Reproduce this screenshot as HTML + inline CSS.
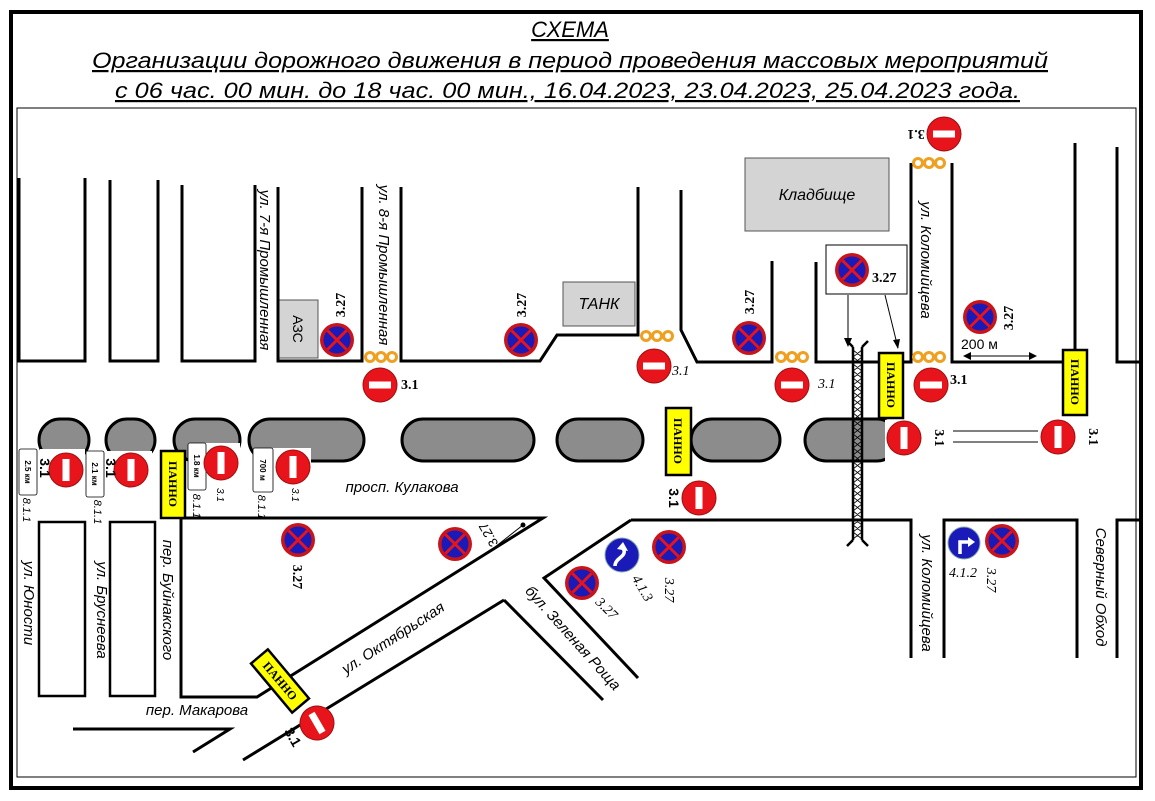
<!DOCTYPE html>
<html><head><meta charset="utf-8"><style>
html,body{margin:0;padding:0;background:#fff}
svg{display:block}
text{font-family:"Liberation Sans",sans-serif}
.t{font-style:italic;font-size:22px;text-decoration:underline}
.st{font-size:15px;font-style:italic}
.lb{font-family:"Liberation Serif",serif;font-weight:bold;font-size:14px}
.li{font-family:"Liberation Serif",serif;font-style:italic;font-size:14px}
.pn{font-family:"Liberation Serif",serif;font-weight:bold;font-size:12px}
</style></head><body>
<svg width="1155" height="801" viewBox="0 0 1155 801" xmlns="http://www.w3.org/2000/svg">
<defs>
<g id="ne"><circle r="17" fill="#e8141b" stroke="#9b1010" stroke-width="1"/><rect x="-11" y="-3.5" width="22" height="7" fill="#fff"/></g>
<g id="nev"><circle r="17" fill="#e8141b" stroke="#9b1010" stroke-width="1"/><rect x="-3.5" y="-11" width="7" height="22" fill="#fff"/></g>
<g id="ns"><circle r="17" fill="#c8141b"/><circle r="13.5" fill="#1a1ab8"/><path d="M-9.5,-9.5L9.5,9.5M9.5,-9.5L-9.5,9.5" stroke="#e8141b" stroke-width="3"/></g>
<g id="dots"><circle cx="0" r="4.5" fill="none" stroke="#f0a020" stroke-width="3"/><circle cx="11" r="4.5" fill="none" stroke="#f0a020" stroke-width="3"/><circle cx="22" r="4.5" fill="none" stroke="#f0a020" stroke-width="3"/></g>
</defs>
<rect width="1155" height="801" fill="#fff"/>
<rect x="11" y="12" width="1130" height="776" fill="none" stroke="#000" stroke-width="4"/>
<rect x="17" y="108" width="1119" height="669" fill="none" stroke="#000" stroke-width="1"/>
<text class="t" x="570" y="37" text-anchor="middle">СХЕМА</text>
<text class="t" x="92" y="68" textLength="956" lengthAdjust="spacingAndGlyphs">Организации дорожного движения в период проведения массовых мероприятий</text>
<text class="t" x="115" y="98" textLength="905" lengthAdjust="spacingAndGlyphs">с 06 час. 00 мин. до 18 час. 00 мин., 16.04.2023, 23.04.2023, 25.04.2023 года.</text>

<!-- buildings -->
<rect x="279" y="300" width="39" height="58" fill="#d4d4d4" stroke="#555"/>
<text x="298" y="329" font-family="Liberation Serif" font-size="14" text-anchor="middle" transform="rotate(90 298 329)" dy="5">АЗС</text>
<rect x="563" y="282" width="72" height="44" fill="#d4d4d4" stroke="#555"/>
<text x="599" y="309" font-size="16" font-style="italic" text-anchor="middle">ТАНК</text>
<rect x="745" y="158" width="144" height="73" fill="#d4d4d4" stroke="#555"/>
<text x="817" y="200" font-size="16" font-style="italic" text-anchor="middle">Кладбище</text>

<!-- top roads -->
<g fill="none" stroke="#000" stroke-width="3">
<path d="M19,178V361H85V178"/>
<path d="M110,180V361H158V180"/>
<path d="M182,185V361H255V185"/>
<path d="M278,187V361H362V187"/>
<path d="M401,187V361H540L557,335H638V187"/>
<path d="M681,190V330L697,362H772V261"/>
<path d="M816,262V362H911V163"/>
<path d="M952,163V362H1075V143"/>
<path d="M1117,147V362H1139"/>
<!-- bottom -->
<path d="M39,522H85V696H39Z" stroke-width="2.5"/>
<path d="M110,522H155V696H110Z" stroke-width="2.5"/>
<path d="M181,518H543L257,697H181Z"/>
<path d="M504,600L243,760"/>
<path d="M504,600L603,700"/>
<path d="M73,729H230L193,752"/>
<path d="M631,520H911V658"/>
<path d="M631,520L544,578L638,678"/>
<path d="M944,658V520H1077V658"/>
<path d="M1117,658V520H1139"/>
</g>
<!-- islands -->
<g fill="#8c8c8c" stroke="#000" stroke-width="3">
<rect x="39" y="419" width="50" height="42" rx="21"/>
<rect x="106" y="419" width="49" height="42" rx="21"/>
<rect x="174" y="419" width="66" height="42" rx="21"/>
<rect x="249" y="419" width="115" height="42" rx="21"/>
<rect x="402" y="419" width="132" height="42" rx="21"/>
<rect x="557" y="419" width="86" height="42" rx="21"/>
<rect x="691" y="419" width="89" height="42" rx="21"/>
<rect x="805" y="419" width="93" height="42" rx="21"/>
</g>
<!-- white cutouts -->
<g fill="#fff">
<rect x="40" y="449" width="45" height="14"/><rect x="86" y="451" width="66" height="12"/>
<rect x="188" y="443" width="52" height="20"/><rect x="253" y="448" width="58" height="15"/>
<rect x="885" y="420" width="16" height="44"/>
</g>
<!-- railway -->
<g stroke="#000" fill="none">
<path d="M853,347V540M862,347V540" stroke-width="2.5"/>
<path d="M853,347L847,341M862,347L868,341M853,540L847,546M862,540L868,546" stroke-width="2.5"/>
<path d="M853,350 L862,357 L853,364 L862,371 L853,378 L862,385 L853,392 L862,399 L853,406 L862,413 L853,420 L862,427 L853,434 L862,441 L853,448 L862,455 L853,462 L862,469 L853,476 L862,483 L853,490 L862,497 L853,504 L862,511 L853,518 L862,525 L853,532 L862,539 M862,350 L853,357 L862,364 L853,371 L862,378 L853,385 L862,392 L853,399 L862,406 L853,413 L862,420 L853,427 L862,434 L853,441 L862,448 L853,455 L862,462 L853,469 L862,476 L853,483 L862,490 L853,497 L862,504 L853,511 L862,518 L853,525 L862,532 L853,539" stroke-width="0.8"/>
</g>
<!-- 3.27 box and arrows -->
<rect x="826" y="245" width="81" height="49" fill="#fff" stroke="#000"/>
<path d="M848,295V346M898,348L885,295" stroke="#000" stroke-width="1"/>
<path d="M844,338L848,347L852,338Z M893,340L898,349L900,339Z" fill="#000"/>
<!-- 200m -->
<path d="M965,356H1035" stroke="#000"/><path d="M963,356l8,-4v8zM1037,356l-8,-4v8z" fill="#000"/>
<text x="981" y="349" font-family="Liberation Serif" font-size="14" text-anchor="start" dx="-20">200 м</text>
<path d="M953,431H1038M953,442H1038" stroke="#000" stroke-width="1"/>

<!-- dots -->
<use href="#dots" x="370" y="357"/><use href="#dots" x="646" y="336"/><use href="#dots" x="781" y="357"/><use href="#dots" x="918" y="357"/><use href="#dots" x="918" y="163"/>

<!-- signs top -->
<use href="#ns" x="337" y="340"/><text class="lb" x="345" y="305" transform="rotate(-90 345 305)" text-anchor="middle">3.27</text>
<use href="#ne" x="380" y="385"/><text class="lb" x="401" y="389">3.1</text>
<use href="#ns" x="521" y="340"/><text class="lb" x="526" y="305" transform="rotate(-90 526 305)" text-anchor="middle">3.27</text>
<use href="#ne" x="654" y="366"/><text class="li" x="672" y="375">3.1</text>
<use href="#ns" x="749" y="338"/><text class="lb" x="754" y="302" transform="rotate(-90 754 302)" text-anchor="middle">3.27</text>
<use href="#ne" x="792" y="385"/><text class="li" x="818" y="388">3.1</text>
<use href="#ne" x="931" y="385"/><text class="lb" x="950" y="384">3.1</text>
<use href="#ns" x="852" y="270"/><text class="lb" x="872" y="282">3.27</text>
<use href="#ns" x="980" y="317"/><text class="lb" x="1013" y="318" transform="rotate(-90 1013 318)" text-anchor="middle">3.27</text>
<use href="#ne" x="944" y="134"/><text class="lb" x="916" y="135" transform="rotate(180 916 135)" text-anchor="middle" dy="5">3.1</text>
<use href="#nev" x="904" y="438"/><text class="lb" x="931" y="438" transform="rotate(90 931 438)" text-anchor="middle" dy="-4">3.1</text>
<use href="#nev" x="1058" y="437"/><text class="lb" x="1085" y="437" transform="rotate(90 1085 437)" text-anchor="middle" dy="-4">3.1</text>

<!-- PANNO -->
<g>
<rect x="879" y="353" width="24" height="65" fill="#ffff00" stroke="#000" stroke-width="2.5"/><text class="pn" x="891" y="385" transform="rotate(90 891 385)" text-anchor="middle" dy="4">ПАННО</text>
<rect x="1063" y="350" width="24" height="65" fill="#ffff00" stroke="#000" stroke-width="2.5"/><text class="pn" x="1075" y="382" transform="rotate(90 1075 382)" text-anchor="middle" dy="4">ПАННО</text>
<rect x="666" y="408" width="25" height="67" fill="#ffff00" stroke="#000" stroke-width="2.5"/><text class="pn" x="678" y="441" transform="rotate(90 678 441)" text-anchor="middle" dy="4">ПАННО</text>
<rect x="161" y="451" width="24" height="67" fill="#ffff00" stroke="#000" stroke-width="2.5"/><text class="pn" x="173" y="484" transform="rotate(90 173 484)" text-anchor="middle" dy="4">ПАННО</text>
<g transform="translate(280 681) rotate(50)"><rect x="-32" y="-11" width="64" height="22" fill="#ffff00" stroke="#000" stroke-width="2.5"/><text class="pn" x="0" y="4" text-anchor="middle">ПАННО</text></g>
</g>

<!-- avenue signs left -->
<g fill="#fff" stroke="#000" stroke-width="0.8">
<rect x="19" y="449" width="18" height="46" rx="2"/><rect x="86" y="451" width="18" height="46" rx="2"/>
<rect x="188" y="443" width="18" height="47" rx="2"/><rect x="253" y="448" width="20" height="44" rx="2"/>
</g>
<g font-size="8" font-weight="bold">
<text x="28" y="472" transform="rotate(90 28 472)" text-anchor="middle" dy="3">2.5 км</text>
<text x="95" y="474" transform="rotate(90 95 474)" text-anchor="middle" dy="3">2.1 км</text>
<text x="197" y="466" transform="rotate(90 197 466)" text-anchor="middle" dy="3">1.8 км</text>
<text x="263" y="470" transform="rotate(90 263 470)" text-anchor="middle" dy="3">700 м</text>
</g>
<g class="li" font-size="11">
<text x="27" y="510" transform="rotate(90 27 510)" text-anchor="middle" dy="4" font-family="Liberation Sans" font-size="11" font-style="italic">8.1.1</text>
<text x="98" y="512" transform="rotate(90 98 512)" text-anchor="middle" dy="4" font-family="Liberation Sans" font-size="11" font-style="italic">8.1.1</text>
<text x="197" y="506" transform="rotate(90 197 506)" text-anchor="middle" dy="4" font-family="Liberation Sans" font-size="11" font-style="italic">8.1.1</text>
<text x="262" y="507" transform="rotate(90 262 507)" text-anchor="middle" dy="4" font-family="Liberation Sans" font-size="11" font-style="italic">8.1.1</text>
<text x="221" y="495" transform="rotate(90 221 495)" text-anchor="middle" dy="4" font-family="Liberation Sans" font-size="10">3.1</text>
<text x="296" y="495" transform="rotate(90 296 495)" text-anchor="middle" dy="4" font-family="Liberation Sans" font-size="10">3.1</text>
</g>
<use href="#nev" x="66" y="470"/><text x="45" y="468" transform="rotate(90 45 468)" text-anchor="middle" dy="5" font-weight="bold" font-size="14">3.1</text>
<use href="#nev" x="131" y="470"/><text x="111" y="468" transform="rotate(90 111 468)" text-anchor="middle" dy="5" font-weight="bold" font-size="14">3.1</text>
<use href="#nev" x="221" y="463"/>
<use href="#nev" x="293" y="467"/>
<use href="#nev" x="699" y="498"/><text x="674" y="498" transform="rotate(90 674 498)" text-anchor="middle" dy="5" font-weight="bold" font-size="14">3.1</text>

<!-- bottom signs -->
<use href="#ns" x="298" y="540"/><text class="lb" x="298" y="577" transform="rotate(90 298 577)" text-anchor="middle" dy="5">3.27</text>
<use href="#ns" x="455" y="544"/><text x="488" y="535" transform="rotate(-120 488 535)" text-anchor="middle" dy="5" font-size="13">3.27</text>
<path d="M495,547L523,525" stroke="#000"/><circle cx="523" cy="525" r="2.5" fill="#000"/>
<g transform="translate(317 723) rotate(60)"><use href="#ne"/></g>
<text x="293" y="737" transform="rotate(60 293 737)" text-anchor="middle" dy="5" font-weight="bold" font-size="14">3.1</text>
<use href="#ns" x="582" y="583"/><text class="li" x="607" y="608" transform="rotate(45 607 608)" text-anchor="middle" dy="5">3.27</text>
<g transform="translate(622 555)"><circle r="17" fill="#1a1ab8" stroke="#8aa" stroke-width="1"/><path d="M-7,11 C-7,3 4,2 2,-5 L0,-8" fill="none" stroke="#fff" stroke-width="3.5"/><path d="M-5,-6L1,-13L6,-4Z" fill="#fff"/></g>
<text class="li" x="643" y="588" transform="rotate(60 643 588)" text-anchor="middle" dy="5">4.1.3</text>
<use href="#ns" x="669" y="547"/><text class="li" x="670" y="590" transform="rotate(90 670 590)" text-anchor="middle" dy="5">3.27</text>
<g transform="translate(964 543)"><circle r="16" fill="#1a1ab8" stroke="#8aa" stroke-width="1"/><path d="M-4,11V-1H5" fill="none" stroke="#fff" stroke-width="3.5"/><path d="M4,-6L11,-1L4,4Z" fill="#fff"/></g>
<text class="li" x="963" y="577" text-anchor="middle">4.1.2</text>
<use href="#ns" x="1002" y="541"/><text class="li" x="992" y="580" transform="rotate(90 992 580)" text-anchor="middle" dy="5">3.27</text>

<!-- street names -->
<text class="st" x="265" y="270" transform="rotate(90 265 270)" text-anchor="middle" dy="5">ул. 7-я Промышленная</text>
<text class="st" x="384" y="265" transform="rotate(90 384 265)" text-anchor="middle" dy="5">ул. 8-я Промышленная</text>
<text class="st" x="926" y="260" transform="rotate(90 926 260)" text-anchor="middle" dy="5">ул. Коломийцева</text>
<text class="st" x="402" y="492" text-anchor="middle">просп. Кулакова</text>
<text class="st" x="29" y="603" transform="rotate(90 29 603)" text-anchor="middle" dy="5">ул. Юности</text>
<text class="st" x="102" y="610" transform="rotate(90 102 610)" text-anchor="middle" dy="5">ул. Бруснеева</text>
<text class="st" x="168" y="600" transform="rotate(90 168 600)" text-anchor="middle" dy="5">пер. Буйнакского</text>
<text class="st" x="197" y="715" text-anchor="middle">пер. Макарова</text>
<text class="st" x="393" y="638" transform="rotate(-33 393 638)" text-anchor="middle" dy="5">ул. Октябрьская</text>
<text class="st" x="573" y="638" transform="rotate(48 573 638)" text-anchor="middle" dy="5">бул. Зеленая Роща</text>
<text class="st" x="927" y="593" transform="rotate(90 927 593)" text-anchor="middle" dy="5">ул. Коломийцева</text>
<text class="st" x="1101" y="587" transform="rotate(90 1101 587)" text-anchor="middle" dy="5">Северный Обход</text>
</svg>
</body></html>
